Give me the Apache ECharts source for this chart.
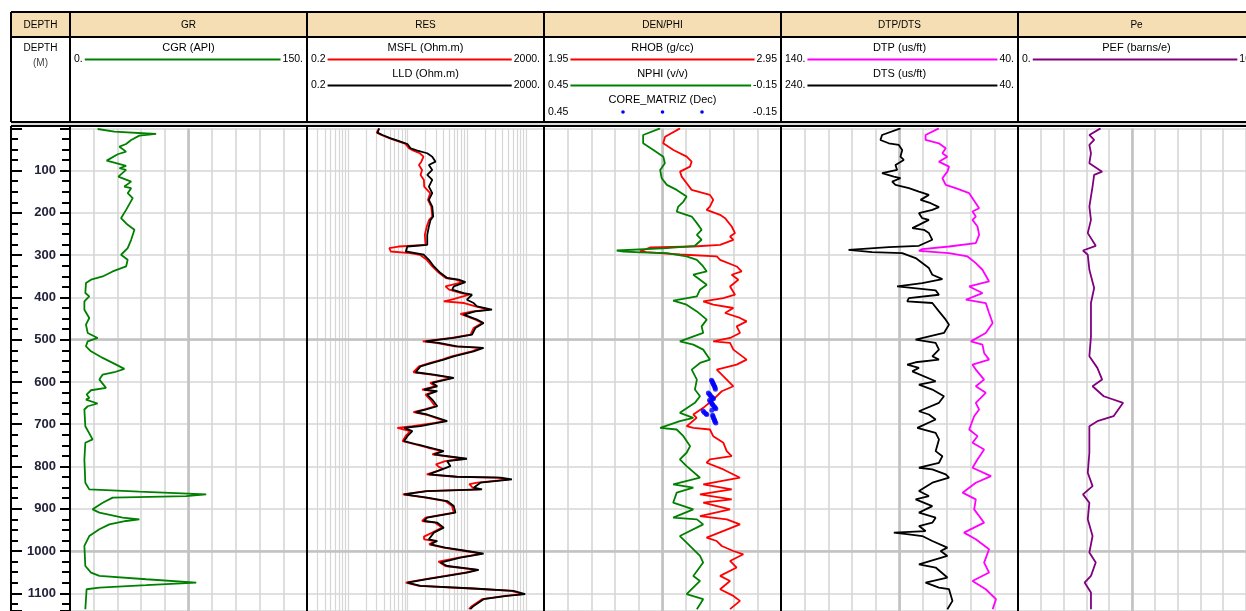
<!DOCTYPE html>
<html><head><meta charset="utf-8">
<script src="https://cdn.jsdelivr.net/npm/echarts@6/dist/echarts.min.js"></script>
<style>html,body{margin:0;padding:0;background:#fff}#c{width:1246px;height:611px}</style>
</head><body><div id="c"></div>
<script>
// ---------------- DATA (depth in m, value in curve units) ----------------
const TRACK_TITLES = ['DEPTH','GR','RES','DEN/PHI','DTP/DTS','Pe'];
const DEPTH_HEADER = ['DEPTH','(M)'];
// [trackIndex, row, name, leftScale, rightScale, color, kind]
const CURVE_HEADERS = [
  [1,0,'CGR (API)','0.','150.','#008000','line'],
  [2,0,'MSFL (Ohm.m)','0.2','2000.','#ff0000','line'],
  [2,1,'LLD (Ohm.m)','0.2','2000.','#000000','line'],
  [3,0,'RHOB (g/cc)','1.95','2.95','#ff0000','line'],
  [3,1,'NPHI (v/v)','0.45','-0.15','#008000','line'],
  [3,2,'CORE_MATRIZ (Dec)','0.45','-0.15','#0000ff','dots'],
  [4,0,'DTP (us/ft)','140.','40.','#ff00ff','line'],
  [4,1,'DTS (us/ft)','240.','40.','#000000','line'],
  [5,0,'PEF (barns/e)','0.','10','#800080','line']
];
const RES_GRID = [0.3,0.4,0.5,0.6,0.7,0.8,0.9,1,2,3,4,5,6,7,8,9,10,20,30,40,50,60,70,80,90,100,200,300,400,500,600,700,800,900,1000];

const GR = [[1.4,17.5],[7.8,28.1],[13.2,54.5],[17.2,43.9],[27.4,38.7],[36.9,35.5],[43.2,31.3],[55,35.5],[61.2,30.2],[76.3,23.2],[82.4,29.2],[88.8,35.5],[94.3,31.3],[98.3,35.5],[114,30.6],[126,38.7],[137.7,34.4],[141.5,38.7],[153.3,36.5],[165,39.7],[192.8,35.5],[212.4,32.3],[228.2,36.5],[240,40.8],[263.6,38.7],[283.3,36.5],[299,32.3],[310.9,36.5],[326.7,35.5],[338.5,27],[350.3,20.7],[358.1,13.3],[366,10.1],[389.6,9.7],[397.6,12.2],[409.4,9.1],[429,9.1],[448.6,12.2],[464.4,10.1],[484,11.2],[495.9,17.5],[503.8,11.2],[515.6,10.1],[527.5,13.3],[543.1,20.7],[558.9,29.2],[569,34.4],[577,28.1],[582.6,20.7],[594.4,18.6],[614,22.8],[619.6,13.3],[629.8,10.5],[637.6,12.2],[641.6,10.1],[651,17.5],[657.5,11.2],[665.2,9.1],[704.7,9.7],[736,14.3],[744,9.7],[783.4,9.1],[838.4,9.7],[854.2,12.2],[859.7,43.9],[866,86.2],[870,73.5],[873.8,27],[885.7,20.7],[901.5,14.3],[909.3,18.6],[921.1,33.3],[925,43.9],[929,35.5],[937,24.9],[948.7,18.6],[964.6,12.2],[988,9.1],[1035.5,9.7],[1051,13.3],[1059,18.6],[1066.9,48.2],[1074.7,79.9],[1081,48.2],[1086.5,18.6],[1090.5,10.5],[1137.7,9.7]];

const LLD = [[0,3.3],[10,3.1],[15.6,3.76],[23.4,5.2],[31.4,7.6],[36.9,9.9],[47,11.2],[52.7,14.6],[58.8,21.4],[66.9,26],[78.7,29.5],[86.5,22.8],[98.3,26],[110,21.4],[122,26],[137.7,22.8],[153.3,26],[169,22.8],[185,26],[208.6,27],[216.4,24.4],[232.2,22.8],[251.8,21.4],[275.5,21.4],[279.5,9.9],[291.3,9.3],[295,13.6],[299,18.8],[311,22.8],[326.7,27.7],[342.3,35.9],[354,46.5],[358,72.8],[363.6,94.4],[374,60],[381.7,56.4],[389.6,88.3],[393.6,122],[405.4,100],[413.2,130],[421.2,148],[429,265],[433,139],[440.8,88.3],[452.6,148],[460.4,191],[472.3,139],[488,122],[495.9,60],[503.9,20],[507.7,33.6],[515.6,68.4],[519.5,191],[527.5,130],[539.3,60],[547.1,40.7],[555,26],[563,16.5],[577,13.6],[582.6,27.7],[590.4,60],[602.2,26],[610.2,31.6],[618,18.8],[622,31.6],[629.8,21.4],[641.6,26],[657.5,31.6],[665.3,20],[671.6,13.6],[677,21.4],[692.9,46.5],[696.7,31.6],[704.7,16.5],[708.5,8.7],[716.5,12],[728.3,9.9],[740,8.7],[748,14.6],[755.7,24.4],[763.7,40.7],[771.6,27.7],[781.7,100],[787.4,46.5],[799.2,52.8],[818.8,22.8],[824.3,68.4],[826.6,366],[830.6,575],[838.4,169],[850.2,130],[854.2,180],[858.2,21.4],[866,8.7],[873.8,21.4],[881.9,46.5],[893.7,60],[909.3,64],[921.1,21.4],[929,18.8],[933,31.6],[944.7,40.7],[956.5,27.7],[972.4,22.8],[976.4,31.6],[984.2,24.4],[992,43.5],[1000,100],[1006,191],[1015.6,77.8],[1027.4,35.9],[1035.5,46.5],[1044.9,158],[1051,100],[1059,46.5],[1066.8,21.4],[1074.7,9.9],[1082.7,16.5],[1088.8,130],[1094.5,612],[1102.3,962],[1106.3,474],[1114,191],[1130,130],[1137.7,114]];

const MSFL = [[0,3.3],[10,3.0],[15.6,3.6],[23.4,5.0],[31.4,7.2],[36.9,9.2],[47,10.5],[52.7,12.5],[58.8,16],[66.9,18.5],[78.7,17],[86.5,15.5],[98.3,17.5],[110,16.5],[122,18.8],[137.7,19],[153.3,24],[169,22],[185,25],[208.6,26],[216.4,23],[232.2,21],[251.8,19.5],[275.5,20],[279.5,7],[283.3,4.9],[291.3,5.2],[295,11],[299,16],[311,21],[326.7,26],[342.3,34],[354,44],[358,65],[363.6,85],[374,43.5],[381.7,50],[389.6,80],[393.6,110],[405.4,55],[409.4,40.7],[413.2,90],[421.2,140],[429,240],[433,125],[439,77.8],[452.6,140],[460.4,180],[472.3,130],[488,115],[495.9,55],[503.9,18],[507.7,30],[515.6,62],[519.5,175],[527.5,120],[539.3,55],[547.1,38],[555,24],[563,15.5],[577,12.5],[582.6,25],[590.4,55],[602.2,24],[610.2,29],[618,17.5],[622,29],[629.8,20],[641.6,24],[657.5,29],[665.3,18.5],[671.6,12.5],[677,20],[692.9,43],[696.7,29],[704.7,12],[708.5,6.7],[716.5,11],[728.3,9.2],[740,8.2],[748,13.5],[755.7,22],[763.7,38],[771.6,26],[781.7,90],[787.4,43],[795,30],[801,33.6],[806,40],[818.8,21],[824.3,64],[826.6,330],[830.6,520],[838.4,150],[842,110],[850.2,125],[854.2,165],[858.2,20],[866,8.3],[873.8,20],[881.9,43],[893.7,56],[909.3,60],[921.1,20],[929,17.5],[933,29],[944.7,38],[956.5,26],[966,18.8],[972.4,19],[976.4,29],[984.2,23],[992,40],[1000,92],[1006,180],[1015.6,72],[1025,33],[1035.5,43],[1044.9,150],[1051,92],[1059,43],[1066.8,20],[1074.7,9.3],[1082.7,15.5],[1088.8,120],[1094.5,560],[1098,700],[1102.3,880],[1106.3,440],[1114,180],[1130,122],[1137.7,108]];

const RHOB = [[0,2.524],[19.6,2.461],[35.2,2.453],[51,2.496],[66.9,2.552],[78.7,2.573],[90.5,2.566],[102.3,2.524],[114.1,2.531],[129.7,2.552],[145.5,2.573],[157.3,2.650],[169.1,2.664],[185,2.650],[192.8,2.636],[204.6,2.693],[212.4,2.714],[232.2,2.742],[247.8,2.756],[255.8,2.735],[263.6,2.749],[275.5,2.693],[279.5,2.580],[281.8,2.397],[291.3,2.355],[292.7,2.383],[295,2.439],[298.4,2.524],[303,2.679],[311,2.693],[326.7,2.763],[338.5,2.784],[346.3,2.742],[358,2.770],[374,2.735],[393.6,2.756],[401.4,2.707],[409.4,2.622],[417.2,2.664],[425,2.749],[436.8,2.714],[448.6,2.777],[456.6,2.805],[468.5,2.763],[484,2.777],[495.9,2.735],[503.9,2.664],[507.7,2.735],[523.5,2.749],[535.3,2.777],[547.1,2.805],[559,2.763],[570.8,2.679],[594.4,2.721],[610.2,2.749],[622,2.700],[641.6,2.664],[661.2,2.622],[677,2.580],[684.9,2.594],[704.7,2.552],[708.5,2.580],[712.5,2.650],[728.3,2.664],[744,2.707],[763.7,2.721],[775.6,2.742],[783.4,2.650],[791.2,2.636],[807,2.707],[826.6,2.777],[842.4,2.622],[854.2,2.742],[866,2.608],[877.8,2.742],[885.7,2.622],[901.5,2.735],[917.3,2.608],[925.1,2.721],[937,2.777],[968.3,2.636],[976.4,2.679],[988.2,2.700],[1000,2.749],[1007.8,2.791],[1023.6,2.735],[1039.2,2.763],[1059,2.693],[1070.9,2.735],[1090.5,2.693],[1106.3,2.749],[1118.1,2.777],[1137.7,2.735]];

const NPHI = [[0,0.156],[15.6,0.199],[35.2,0.199],[51,0.173],[66.9,0.148],[82.4,0.144],[98.3,0.156],[118,0.152],[133.7,0.139],[145.5,0.114],[161.3,0.089],[173.2,0.097],[185,0.110],[196.8,0.114],[208.6,0.076],[224.2,0.063],[240,0.051],[251.8,0.063],[263.6,0.051],[277.8,0.068],[283.3,0.139],[288.9,0.266],[291.3,0.249],[293.6,0.207],[295,0.139],[303,0.089],[311,0.063],[326.7,0.047],[338.5,0.038],[346.3,0.072],[358,0.055],[370,0.038],[381.7,0.055],[397.6,0.063],[407.7,0.123],[417.2,0.089],[433,0.063],[452.6,0.038],[468.5,0.051],[484,0.047],[503.9,0.106],[511.7,0.072],[523.5,0.047],[547.1,0.030],[555,0.055],[570.8,0.076],[594.4,0.063],[618,0.068],[633.8,0.055],[649.4,0.068],[673.1,0.106],[684.9,0.072],[692.9,0.106],[708.5,0.156],[712.5,0.114],[728.3,0.097],[752,0.080],[767.5,0.089],[783.4,0.106],[799.2,0.089],[826.6,0.055],[842.4,0.123],[850.2,0.072],[862,0.114],[885.7,0.123],[901.5,0.072],[921.1,0.123],[925.1,0.063],[937,0.047],[964.6,0.106],[980.2,0.089],[1011.8,0.055],[1027.4,0.047],[1059,0.072],[1070.9,0.055],[1102.3,0.089],[1114,0.047],[1137.7,0.063]];

const CORE = [[596,0.026],[599,0.024],[602,0.023],[605,0.021],[608,0.020],[611,0.018],[614,0.017],[617,0.016],
  [626,0.034],[629,0.031],[632,0.029],[635,0.026],[638,0.023],[640,0.021],
  [643,0.031],[646,0.028],[649,0.026],[652,0.024],[655,0.022],[658,0.019],[661,0.017],[663.5,0.015],
  [667,0.025],[669,0.047],[672,0.044],[675,0.040],[677,0.038],
  [679,0.023],[682,0.022],[685,0.021],[688,0.019],[691,0.018],[694,0.017],[697,0.015]];

const DTP = [[0,73.4],[15.6,79],[27.4,79],[35.2,73.4],[47,70.5],[58.8,71.9],[66.9,69.8],[78.7,73.4],[90.5,69.1],[102.3,69.8],[118,71.9],[133.7,70.5],[141.5,66.3],[153.3,60.6],[165.1,59.2],[177,57.8],[188.8,56.4],[196.8,59.2],[208.6,57.8],[216.4,59.2],[232.2,57.1],[251.8,56.4],[271.4,57.8],[279.5,69.1],[285.6,80.4],[289.6,81.8],[295,69.1],[303,61.3],[318.7,57.8],[334.5,55],[362.2,52.2],[374,60.6],[389.6,55],[405.4,62],[413.2,53.6],[436.8,52.2],[460.4,50.7],[484,53.6],[503.9,59.9],[511.7,55],[531.3,54.3],[547.1,52.2],[559,59.2],[570.8,57.8],[594.4,54.3],[610.2,57.8],[625.8,53.6],[649.4,57.8],[665.3,56.4],[681.1,58.5],[712.5,60.6],[728.3,57.1],[744,59.2],[759.8,54.3],[783.4,57.1],[803,59.2],[822.8,51.4],[838.4,57.8],[862,63.4],[877.8,57.8],[901.5,58.5],[933,54.3],[956.5,62.8],[972.4,57.8],[996,52.2],[1027.4,54.3],[1051,52.2],[1070.9,59.2],[1090.5,53.6],[1114,49.3],[1137.7,50.7]];

const DTS = [[0,139.2],[15.6,154.7],[27.4,156.1],[35.2,149.1],[39.2,140.6],[51,137.7],[66.9,139.2],[74.7,136.4],[86.5,143.4],[98.3,142],[106.1,154.7],[114.1,144.8],[117.9,139.2],[125.9,146.2],[133.7,143.4],[141.5,132.1],[149.5,123.6],[157.3,115.2],[169.1,122.2],[177,113.7],[186.4,106.7],[192.8,112.3],[200.6,123.6],[212.4,120.8],[216.4,115.2],[228.2,123.6],[236,129.2],[240,119.4],[247.8,115.2],[263.6,112.3],[277.8,123.6],[281,149.1],[287.3,183],[291.3,184.3],[292.7,163.1],[295,137.7],[306.9,126.4],[318.7,120.8],[330.5,115.2],[346.3,112.3],[356.5,103.8],[366,120.8],[374,142],[383.4,109.5],[393.6,106.7],[401.4,132.1],[409.4,133.5],[413.2,112.3],[433,106.7],[452.6,101],[464.4,98.2],[484,102.5],[499.9,126.4],[507.7,109.5],[523.5,106.7],[539.3,112.3],[547.1,106.7],[553.4,126.4],[559,133.5],[566.8,123.6],[574.8,129.2],[598.4,109.5],[606.2,123.6],[618,112.3],[633.8,102.5],[649.4,106.7],[669.3,123.6],[677,115.2],[688.9,109.5],[708.5,125],[720.3,109.5],[736.1,106.7],[763.7,109.5],[775.6,103.8],[791.2,106.7],[803,123.6],[807,112.3],[818.8,101],[826.6,98.2],[838.4,112.3],[858.2,123.6],[870,115.2],[877.8,126.4],[893.7,112.3],[909.3,123.6],[921.1,109.5],[933,112.3],[941,123.6],[952.8,118],[956.5,144.8],[960.5,132.1],[964.6,120.8],[976.4,112.3],[992,99.6],[1000,105.3],[1011.8,99.6],[1031.4,123.6],[1039.2,109.5],[1062.8,99.6],[1074.7,118],[1086.5,106.7],[1090.5,98.2],[1118.1,95.3],[1137.7,99.6]];

const PEF = [[0,3.62],[15.6,3.13],[27.4,3.34],[39.2,3.13],[58.8,3.2],[82.4,3.13],[102.3,3.69],[110.1,3.34],[137.7,3.27],[185,3.13],[216.4,3.2],[247.8,3.06],[277.8,3.41],[288.9,2.85],[299,3.06],[334.5,3.13],[377.7,3.34],[413.2,3.2],[492,3.2],[539.3,3.13],[566.7,3.48],[594.4,3.69],[610.2,3.27],[633.8,3.76],[649.4,4.61],[681.1,4.19],[692.9,3.48],[704.7,3.13],[767.5,3.13],[814.8,3.06],[846.4,3.27],[866,2.85],[885.7,3.13],[925.1,3.06],[964.6,3.27],[1003.8,3.13],[1027.4,3.41],[1059,3.2],[1074.7,2.92],[1098.3,3.2],[1137.7,3.2]];

// ---------------- LAYOUT ----------------
const W = 1246, HT = 611;
const EDGES = [11,70,307,544,781,1018,1255];
const TOP = 128.4, DMAX = 1142;
const FONT = '"Liberation Sans", Arial, sans-serif';
const THIN = {color:'#d6d6d6', width:1.6, type:'solid'};
const RESLINE = {color:'#d6d6d6', width:1.2, type:'solid'};
const THICK = {color:'#c2c2c2', width:2.6, type:'solid'};

const chart = echarts.init(document.getElementById('c'), null, {renderer:'canvas'});

const grid = [];
for (let i = 0; i < 6; i++) grid.push({left: EDGES[i], top: TOP, width: EDGES[i+1]-EDGES[i], height: HT - TOP});

const yBase = {type:'value', inverse:true, min:0, max:DMAX, interval:100,
  axisLine:{show:false}, axisTick:{show:false}, axisLabel:{show:false}};
const yAxis = [
  Object.assign({}, yBase, {gridIndex:0, position:'left', splitLine:{show:false},
    axisTick:{show:true, inside:true, length:11, lineStyle:{color:'#000', width:2}},
    minorTick:{show:true, splitNumber:4, length:7, lineStyle:{color:'#000', width:2}}}),
  Object.assign({}, yBase, {gridIndex:0, position:'right', splitLine:{show:false},
    axisTick:{show:true, inside:true, length:10, lineStyle:{color:'#000', width:2}},
    minorTick:{show:true, splitNumber:4, length:8, lineStyle:{color:'#000', width:2}},
    axisLabel:{show:true, inside:true, margin:14, fontSize:13, fontWeight:'bold', color:'#22223a',
      fontFamily:FONT, showMinLabel:false, showMaxLabel:false, formatter: v => String(v)}})
];
for (let g = 1; g <= 5; g++) yAxis.push(Object.assign({}, yBase, {gridIndex:g, splitLine:{show:true, lineStyle:THIN}}));

const gridX = (g, o) => Object.assign({type:'value', gridIndex:g, axisLine:{show:false}, axisTick:{show:false},
  axisLabel:{show:false}, splitLine:{show:true, lineStyle:THIN}}, o);
const xAxis = [
  {type:'value', gridIndex:0, min:0, max:1, show:false},                         // 0 depth dummy
  gridX(1, {min:0, max:150, interval:15}),                                       // 1 GR
  {type:'log', gridIndex:2, min:0.2, max:2000, logBase:10, show:false},          // 2 RES
  gridX(3, {min:0, max:10, interval:1}),                                         // 3 DEN grid
  {type:'value', gridIndex:3, min:1.95, max:2.95, show:false},                   // 4 RHOB
  {type:'value', gridIndex:3, min:-0.15, max:0.45, inverse:true, show:false},    // 5 NPHI
  gridX(4, {min:40, max:140, interval:10, inverse:true}),                        // 6 DTP
  {type:'value', gridIndex:4, min:40, max:240, inverse:true, show:false},        // 7 DTS
  gridX(5, {min:0, max:10, interval:1})                                          // 8 PEF
];

function mk(items){
  return {silent:true, symbol:['none','none'], label:{show:false}, z:1, animation:false,
    lineStyle:THIN, emphasis:{disabled:true}, data:items};
}
const H500 = [{yAxis:500, lineStyle:THICK},{yAxis:1000, lineStyle:THICK}];
function curve(name, pts, xi, yi, color, width, extraMarks){
  const s = {name, type:'line', xAxisIndex:xi, yAxisIndex:yi, data: pts.map(p => [p[1], p[0]]),
    showSymbol:false, symbol:'none', lineStyle:{color, width}, itemStyle:{color}, z:3, clip:true, silent:true};
  if (extraMarks) s.markLine = mk(extraMarks);
  return s;
}

const series = [
  {type:'line', xAxisIndex:0, yAxisIndex:0, data:[], silent:true},
  curve('CGR', GR, 1, 2, '#008000', 1.8, [{xAxis:75, lineStyle:THICK}].concat(H500)),
  curve('MSFL', MSFL, 2, 3, '#ff0000', 1.8, RES_GRID.map(v => ({xAxis:v, lineStyle:RESLINE})).concat(H500)),
  curve('LLD', LLD, 2, 3, '#000000', 1.8),
  curve('RHOB', RHOB, 4, 4, '#ff0000', 1.8, [{xAxis:2.45, lineStyle:THICK}].concat(H500)),
  curve('NPHI', NPHI, 5, 4, '#008000', 1.8),
  {name:'CORE_MATRIZ', type:'scatter', xAxisIndex:5, yAxisIndex:4, data: CORE.map(p => [p[1], p[0]]),
    symbol:'circle', symbolSize:5, itemStyle:{color:'#0000ff'}, z:4, silent:true},
  curve('DTP', DTP, 6, 5, '#ff00ff', 1.8, [{xAxis:90, lineStyle:THICK}].concat(H500)),
  curve('DTS', DTS, 7, 5, '#000000', 1.8),
  curve('PEF', PEF, 8, 6, '#800080', 1.8, [{xAxis:5, lineStyle:THICK}].concat(H500))
];

// ---------------- HEADER GRAPHICS ----------------
const ctx = document.createElement('canvas').getContext('2d');
function tw(t, font){ ctx.font = font; return ctx.measureText(t).width; }
const F10 = '10px ' + FONT, F11 = '11px ' + FONT, F105 = '10.5px ' + FONT;
const g = [];
function line(x1,y1,x2,y2,stroke,w){ g.push({type:'line', z:20, silent:true, shape:{x1,y1,x2,y2}, style:{stroke:stroke||'#000', lineWidth:w||2}}); }
function text(t,x,y,font,fill,align){ g.push({type:'text', z:21, silent:true, style:{text:t, x, y, font, fill:fill||'#000',
  textAlign:align||'center', align:align||'center', textVerticalAlign:'middle', verticalAlign:'middle'}}); }

g.push({type:'rect', z:19, silent:true, shape:{x:11, y:12, width:W-11, height:25}, style:{fill:'#F5DEB3'}});
g.push({type:'rect', z:19, silent:true, shape:{x:11, y:122, width:W-11, height:4}, style:{fill:'#dcdcdc'}});
[12,37,122,126].forEach(y => line(11, y, W, y));
EDGES.slice(0,6).forEach(x => { line(x, 12, x, 122); line(x, 126, x, HT); });

TRACK_TITLES.forEach((t,i) => text(t, (EDGES[i] + EDGES[i+1]) / 2, 25, F10, '#000'));
text(DEPTH_HEADER[0], (EDGES[0]+EDGES[1])/2, 48, F10, '#000');
text(DEPTH_HEADER[1], (EDGES[0]+EDGES[1])/2, 63, F10, '#444');

CURVE_HEADERS.forEach(([ti,row,name,lo,hi,color,kind]) => {
  const L = EDGES[ti], R = EDGES[ti+1], cx = (L + R) / 2;
  const yName = 48 + row * 26;
  const yl = kind === 'dots' ? 112 : 59.5 + row * 26;
  text(name, cx, yName, F11, '#000');
  text(lo, L + 4, yl, F105, '#000', 'left');
  text(hi, R - 4, yl, F105, '#000', 'right');
  const x1 = L + 4 + tw(lo, F105) + 2, x2 = R - 4 - tw(hi, F105) - 2;
  if (kind === 'line') line(x1, yl, x2, yl, color, 2);
  else [-39.5, 0, 39.5].forEach(d => g.push({type:'circle', z:21, silent:true, shape:{cx:cx + d, cy:yl, r:1.8}, style:{fill:color}}));
});

chart.setOption({animation:false, backgroundColor:'#fff', grid, xAxis, yAxis, series, graphic:{elements:g}});
</script></body></html>
